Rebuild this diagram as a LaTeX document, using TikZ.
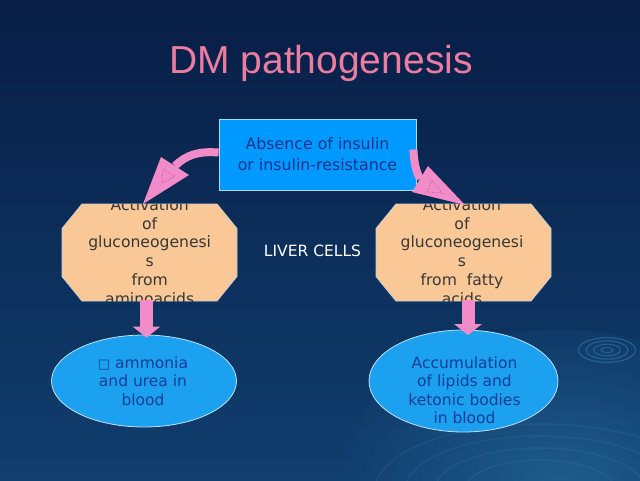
\documentclass[tikz,border=0pt]{standalone}
\usepackage{fontspec}
\usetikzlibrary{shapes.geometric,arrows.meta,calc}
\newfontfamily\dvs{DejaVu Sans}
\newfontfamily\lbs{Liberation Sans}
\definecolor{bgtop}{RGB}{8,30,70}
\definecolor{bgbot}{RGB}{16,62,110}
\definecolor{glow}{RGB}{40,112,160}
\definecolor{ripplec}{RGB}{70,145,195}
\definecolor{titlepink}{RGB}{236,124,160}
\definecolor{topfill}{RGB}{0,153,255}
\definecolor{topedge}{RGB}{170,220,255}
\definecolor{toptext}{RGB}{15,52,140}
\definecolor{peach}{RGB}{250,200,150}
\definecolor{octedge}{RGB}{205,205,205}
\definecolor{octtextc}{RGB}{55,55,55}
\definecolor{ellfill}{RGB}{28,160,240}
\definecolor{elledge}{RGB}{190,225,250}
\definecolor{elltextc}{RGB}{16,62,150}
\definecolor{arrowpink}{RGB}{242,140,200}
\definecolor{markpink}{RGB}{205,85,155}
\newcommand*\octpath{(-87.5,-24) -- (-67.5,-48.5) -- (67.5,-48.5) -- (87.5,-24) -- (87.5,24) -- (67.5,48.5) -- (-67.5,48.5) -- (-87.5,24) -- cycle}
\tikzset{
  topbox/.style={draw=topedge, line width=0.8pt, fill=topfill, minimum width=197pt, minimum height=71pt, inner sep=0pt, align=center, text=toptext, font=\dvs\fontsize{15.8pt}{21pt}\selectfont},
  octo/.style={fill=peach, draw=octedge, line width=0.8pt},
  octanchor/.style={inner sep=0pt, minimum width=175pt, minimum height=97pt},
  octtext/.style={inner sep=0pt, align=center, text=octtextc, font=\dvs\fontsize{15.6pt}{18.9pt}\selectfont},
  ell/.style={ellipse, fill=ellfill, draw=elledge, line width=0.8pt, inner sep=0pt},
  elltext/.style={inner sep=0pt, align=center, text=elltextc, font=\dvs\fontsize{15.5pt}{18.6pt}\selectfont},
  band/.style={draw=arrowpink, line width=8pt},
  headfill/.style={fill=arrowpink},
  dashmark/.style={draw=markpink, line width=0.6pt, dash pattern=on 1.5pt off 1.5pt},
  downarrow/.style={draw=arrowpink, line width=13pt, -{Triangle[length=11pt,width=27pt]}},
  ripple/.style={draw=ripplec, line width=1.2pt, opacity=0.4},
  wave/.style={draw=ripplec, line width=1.5pt, opacity=0.15}
}
\begin{document}
\begin{tikzpicture}[x=1pt,y=-1pt]
\useasboundingbox (0,0) rectangle (640,480);
% background
\shade[top color=bgtop, bottom color=bgbot] (0,0) rectangle (640,480);
\begin{scope}
\clip (0,0) rectangle (640,480);
\shade[inner color=glow, outer color=bgbot, opacity=0.6] (560,480) ellipse (220pt and 150pt);
\foreach \r in {50,70,90,110}
  \draw[wave] (540,490) ellipse ({\r*1.5pt} and {\r*0.6pt});
\end{scope}
\foreach \r in {4,9,14,19}
  \draw[ripple] (607,350) ellipse ({\r*1.5pt} and {\r*0.65pt});

% title
\node[anchor=base, inner sep=0pt, text=titlepink, font=\lbs\fontsize{39pt}{39pt}\selectfont] (title) at (321,73.3) {DM pathogenesis};

% curved arrow geometry
\coordinate (bL1) at (161,157);
\coordinate (bL2) at (189,175);
\coordinate (tipL) at (143,204);
\coordinate (bR1) at (428,166);
\coordinate (bR2) at (412,192);
\coordinate (tipR) at (465,205);

% top box
\node[topbox] (top) at (317.5,154.5) {Absence of insulin\\or insulin-resistance};

\draw[band] ([yshift=2pt]top.west) .. controls (198,151) and (186,155) .. ($(bL1)!0.5!(bL2)$);
\draw[band] ([xshift=-3pt,yshift=5pt]top.east) .. controls (414,163) and (416,171) .. ($(bR1)!0.5!(bR2)$);

% octagons
\begin{scope}[shift={(149.5,252.5)}]
  \path[octo] \octpath;
  \begin{scope}
    \clip \octpath;
    \node[octtext, anchor=north] (tOL) at (0.2,-54.4) {Activation\\of\\gluconeogenesi\\s\\from\\aminoacids};
  \end{scope}
  \node[octanchor] (octL) at (0,0) {};
\end{scope}
\begin{scope}[shift={(463.5,252.5)}]
  \path[octo] \octpath;
  \begin{scope}
    \clip \octpath;
    \node[octtext, anchor=north] (tOR) at (-1.5,-54.4) {Activation\\of\\gluconeogenesi\\s\\from\ \ fatty\\acids};
  \end{scope}
  \node[octanchor] (octR) at (0,0) {};
\end{scope}

% arrow heads
\fill[headfill] (bL1) -- (bL2) -- (tipL) -- cycle;
\draw[dashmark] (163,169) -- (175,176) -- (162,183) -- cycle;
\fill[headfill] (bR1) -- (bR2) -- (tipR) -- cycle;
\draw[dashmark] (432,180) -- (427,192) -- (442,193) -- cycle;

% liver cells
\node[anchor=base, inner sep=0pt, text=white, font=\dvs\fontsize{15.5pt}{15.5pt}\selectfont] (liver) at (312.5,256.5) {LIVER CELLS};

% ellipses
\node[ell, minimum width=185pt, minimum height=92pt] (ellL) at (144,381) {};
\node[ell, minimum width=189pt, minimum height=102pt] (ellR) at (463.5,381) {};
\node[elltext, anchor=north] (tEL) at (143,356.2) {{\fontsize{13pt}{13pt}\selectfont □} ammonia\\and urea in\\blood};
\node[elltext, anchor=north] (tER) at (464.5,356.2) {Accumulation\\of lipids and\\ketonic bodies\\in blood};

% down arrows
\draw[downarrow] ([xshift=-3pt,yshift=1pt]octL.south) -- ([xshift=2.5pt,yshift=-3pt]ellL.north);
\draw[downarrow] ([xshift=4.5pt,yshift=1pt]octR.south) -- ([xshift=4.5pt,yshift=-5.5pt]ellR.north);
\end{tikzpicture}
\end{document}
